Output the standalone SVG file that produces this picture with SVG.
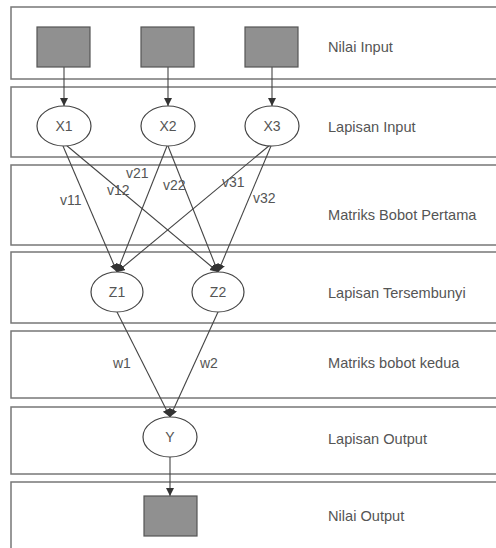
<svg xmlns="http://www.w3.org/2000/svg" width="496" height="548" viewBox="0 0 496 548">
  <defs>
    <marker id="arr" markerUnits="userSpaceOnUse" markerWidth="10" markerHeight="10" refX="8" refY="4" orient="auto">
      <path d="M0,0 L8,4 L0,8 Z" fill="#333"/>
    </marker>
    <style>
      .panel { fill: none; stroke: #777; stroke-width: 1.5; }
      .box { fill: #909090; stroke: #555; stroke-width: 1.2; }
      .node { fill: #fff; stroke: #444; stroke-width: 1.2; }
      .conn { stroke: #444; stroke-width: 1.1; fill: none; marker-end: url(#arr); }
      .lbl { font-family: "Liberation Sans", Arial, sans-serif; font-size: 14px; fill: #555; }
      .pl { font-family: "Liberation Sans", Arial, sans-serif; font-size: 14.6px; fill: #555; }
      .nl { font-family: "Liberation Sans", Arial, sans-serif; font-size: 14px; fill: #555; text-anchor: middle; }
    </style>
  </defs>
  <rect width="496" height="548" fill="#fff"/>
  <g id="panels">
    <rect class="panel" x="11" y="7" width="500" height="72"/>
    <rect class="panel" x="11" y="87" width="500" height="70"/>
    <rect class="panel" x="11" y="165" width="500" height="80"/>
    <rect class="panel" x="11" y="252" width="500" height="71"/>
    <rect class="panel" x="11" y="331" width="500" height="67"/>
    <rect class="panel" x="11" y="407" width="500" height="67"/>
    <rect class="panel" x="11" y="482" width="500" height="80"/>
    <text class="pl" x="328" y="52">Nilai Input</text>
    <text class="pl" x="328" y="132">Lapisan Input</text>
    <text class="pl" x="328" y="220">Matriks Bobot Pertama</text>
    <text class="pl" x="328" y="298">Lapisan Tersembunyi</text>
    <text class="pl" x="328" y="368">Matriks bobot kedua</text>
    <text class="pl" x="328" y="444">Lapisan Output</text>
    <text class="pl" x="328" y="521">Nilai Output</text>
  </g>
  <g id="connectors">
    <line class="conn" x1="64" y1="67" x2="64" y2="106"/>
    <line class="conn" x1="168" y1="67" x2="168" y2="106"/>
    <line class="conn" x1="272" y1="67" x2="272" y2="106"/>
    <line class="conn" x1="63" y1="146" x2="117" y2="272"/>
    <line class="conn" x1="66" y1="145" x2="218" y2="272"/>
    <line class="conn" x1="167" y1="146" x2="117" y2="272"/>
    <line class="conn" x1="168" y1="146" x2="218" y2="272"/>
    <line class="conn" x1="270" y1="145" x2="117" y2="272"/>
    <line class="conn" x1="271" y1="146" x2="218" y2="272"/>
    <line class="conn" x1="117" y1="312" x2="170" y2="417"/>
    <line class="conn" x1="218" y1="312" x2="170" y2="417"/>
    <line class="conn" x1="170" y1="457" x2="170" y2="496"/>
    <text class="lbl" x="60" y="205">v11</text>
    <text class="lbl" x="126" y="178">v21</text>
    <text class="lbl" x="107" y="195">v12</text>
    <text class="lbl" x="163" y="190">v22</text>
    <text class="lbl" x="222" y="187">v31</text>
    <text class="lbl" x="253" y="203">v32</text>
    <text class="lbl" x="113" y="368">w1</text>
    <text class="lbl" x="200" y="368">w2</text>
  </g>
  <g id="in1"><rect class="box" x="37" y="27" width="53" height="40"/></g>
  <g id="in2"><rect class="box" x="141" y="27" width="53" height="40"/></g>
  <g id="in3"><rect class="box" x="245" y="27" width="53" height="40"/></g>
  <g id="X1"><ellipse class="node" cx="64" cy="126" rx="27" ry="20"/><text class="nl" x="64" y="131">X1</text></g>
  <g id="X2"><ellipse class="node" cx="168" cy="126" rx="27" ry="20"/><text class="nl" x="168" y="131">X2</text></g>
  <g id="X3"><ellipse class="node" cx="272" cy="126" rx="27" ry="20"/><text class="nl" x="272" y="131">X3</text></g>
  <g id="Z1"><ellipse class="node" cx="117" cy="292" rx="26" ry="20"/><text class="nl" x="117" y="297">Z1</text></g>
  <g id="Z2"><ellipse class="node" cx="218" cy="292" rx="26" ry="20"/><text class="nl" x="218" y="297">Z2</text></g>
  <g id="Y"><ellipse class="node" cx="170" cy="437" rx="27" ry="20"/><text class="nl" x="170" y="442">Y</text></g>
  <g id="out"><rect class="box" x="144" y="496" width="53" height="40"/></g>
</svg>
